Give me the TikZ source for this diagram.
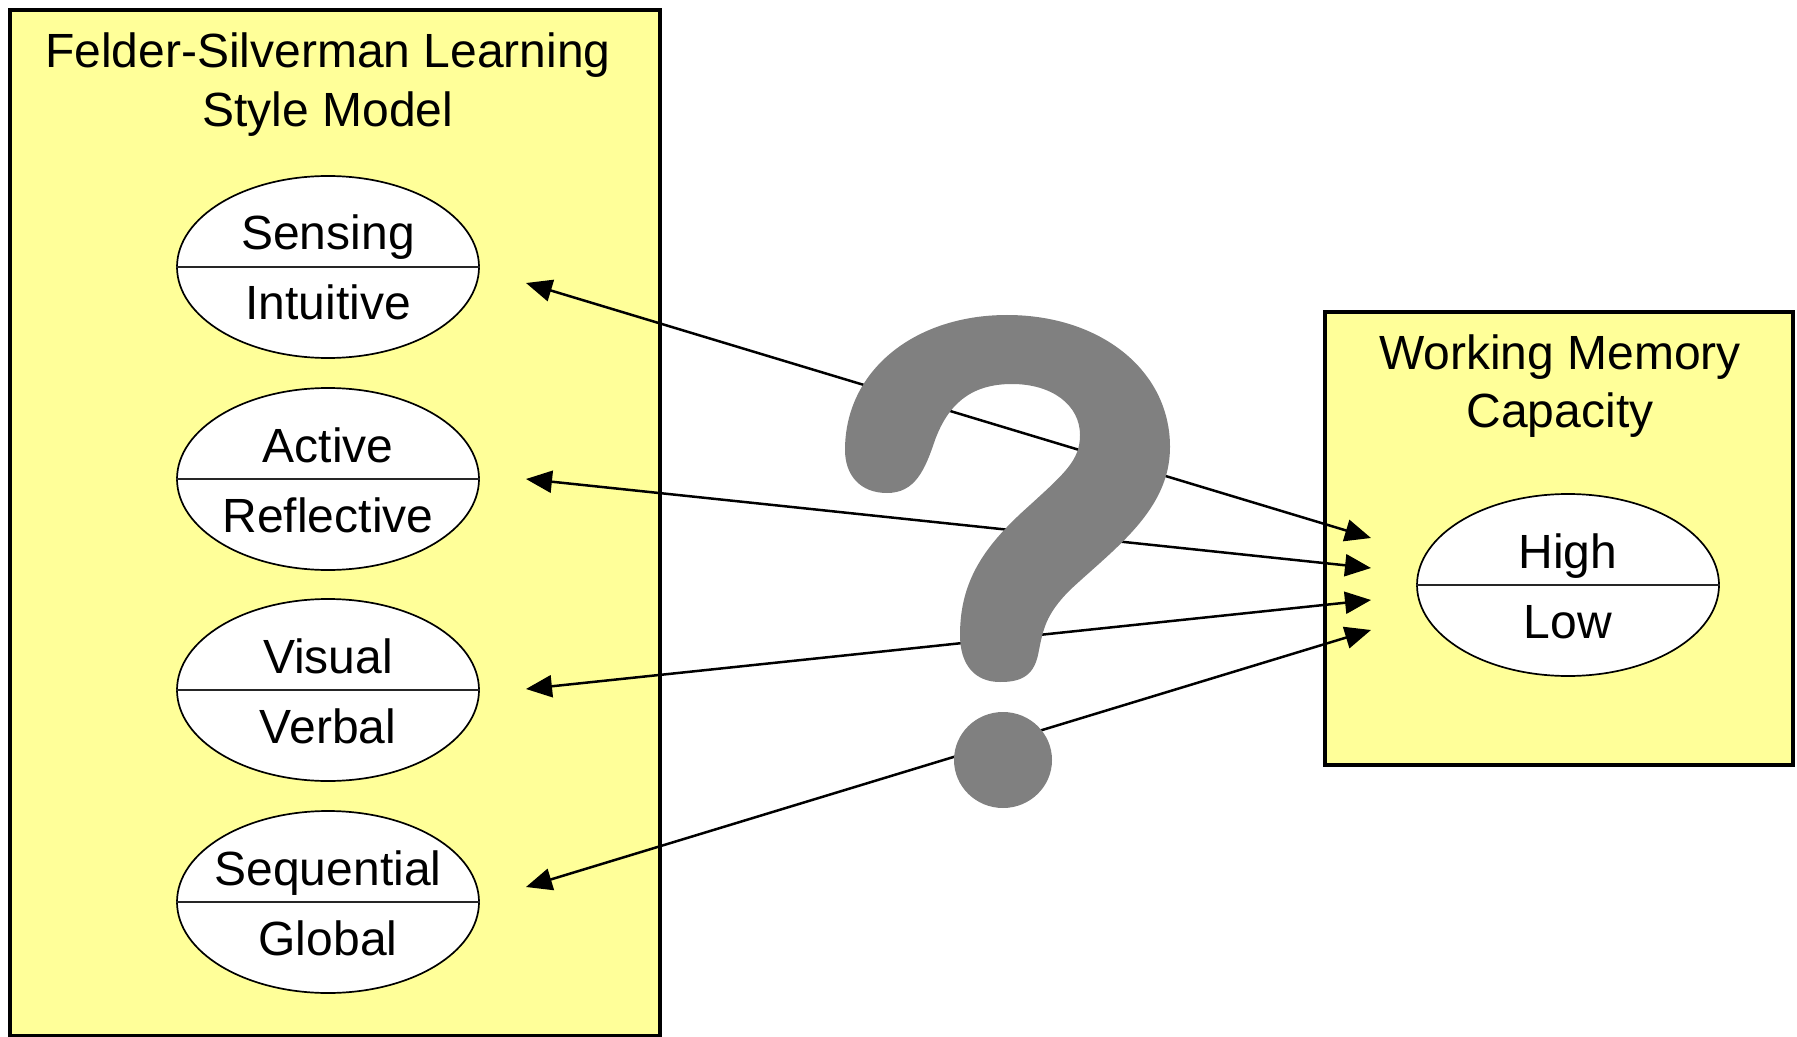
\documentclass[tikz,border=0pt]{standalone}
\usepackage{fontspec}
\setmainfont{Liberation Sans}
\usetikzlibrary{arrows.meta,shapes.geometric}
\definecolor{boxyellow}{HTML}{FFFF99}
\definecolor{qgray}{HTML}{808080}
\begin{document}
\begin{tikzpicture}[x=0.5pt,y=-0.5pt,
  lbl/.style={anchor=base, font=\fontsize{24}{28}\selectfont, inner sep=0pt},
  panel/.style={draw=black, fill=boxyellow, line width=1.6pt},
  dimnode/.style={ellipse, draw=black, fill=white, line width=0.85pt, minimum width=151pt, minimum height=91pt, inner sep=0pt},
  divider/.style={line width=0.6pt, draw=black!85},
  link/.style={line width=1.25pt, {Triangle[length=13pt,width=11pt]}-{Triangle[length=13pt,width=11pt]}},
]
\useasboundingbox (0,0) rectangle (1797,1037);

% panels
\draw[panel] (10,10) rectangle (660,1036);
\draw[panel] (1325,312) rectangle (1793,765);

% titles
\node[lbl] (t1a) at (328,68) {Felder-Silverman Learning};
\node[lbl] (t1b) at (328,127) {Style Model};
\node[lbl] (t2a) at (1560,370) {Working Memory};
\node[lbl] (t2b) at (1560,427) {Capacity};

% left dimensions
\foreach \nm/\cy/\top/\bot in {sens/267/Sensing/Intuitive, act/479/Active/Reflective, vis/690/Visual/Verbal, seq/902/Sequential/Global}{
  \node[dimnode] (\nm) at (328,\cy) {};
  \draw[divider] (\nm.west) -- (\nm.east);
  \node[lbl] (\nm-top) at (328,\cy-17) {\top};
  \node[lbl] (\nm-bot) at (328,\cy+53) {\bot};
}

% right dimension
\node[dimnode] (wmc) at (1568,585) {};
\draw[divider] (wmc.west) -- (wmc.east);
\node[lbl] (wmc-top) at (1568,568) {High};
\node[lbl] (wmc-bot) at (1568,638) {Low};

% connector end points
\coordinate (l1) at (526,283);
\coordinate (l2) at (526,479);
\coordinate (l3) at (526,689);
\coordinate (l4) at (526,887);
\coordinate (r1) at (1371,538);
\coordinate (r2) at (1371,568);
\coordinate (r3) at (1371,600);
\coordinate (r4) at (1371,630);

\draw[link] (l1) -- (r1);
\draw[link] (l2) -- (r2);
\draw[link] (l3) -- (r3);
\draw[link] (l4) -- (r4);

% question mark
\fill[qgray] (887,493)
  .. controls (860,493) and (845,475) .. (845,450)
  .. controls (845,370) and (915,315) .. (1007,315)
  .. controls (1100,315) and (1170,370) .. (1170,447)
  .. controls (1170,510) and (1115,548) .. (1070,590)
  .. controls (1045,615) and (1043,630) .. (1038,655)
  .. controls (1033,678) and (1018,682) .. (1000,682)
  .. controls (975,682) and (960,665) .. (960,635)
  .. controls (960,580) and (985,545) .. (1030,505)
  .. controls (1065,473) and (1080,460) .. (1080,435)
  .. controls (1080,405) and (1052,384) .. (1012,384)
  .. controls (970,384) and (948,405) .. (935,440)
  .. controls (925,470) and (915,493) .. (887,493) -- cycle;
\fill[qgray] (1003,760) ellipse [x radius=49, y radius=48];
\end{tikzpicture}
\end{document}
